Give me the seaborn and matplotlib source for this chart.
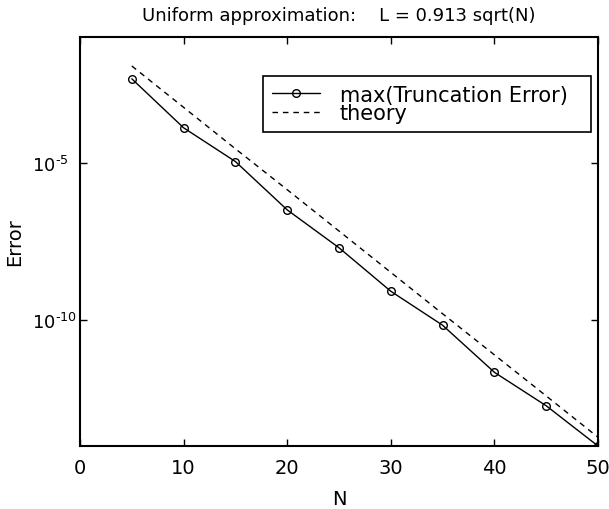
import matplotlib
matplotlib.use("Agg")
import matplotlib.pyplot as plt
import matplotlib.ticker as mticker
import seaborn as sns
import pandas as pd

# ---- data ----
N_values = [5, 10, 15, 20, 25, 30, 35, 40, 45, 50]
max_trunc_error = [4.7e-3, 1.3e-4, 1.1e-5, 3.2e-7, 2.0e-8, 8.3e-10, 6.9e-11, 2.2e-12, 1.9e-13, 1.0e-14]
theory_error = [1.2e-2, 5.8e-4, 2.8e-5, 1.4e-6, 6.8e-8, 3.3e-9, 1.6e-10, 7.9e-12, 3.9e-13, 1.9e-14]
x_ticks = [0, 10, 20, 30, 40, 50]
y_ticks = [1e-10, 1e-5]
y_tick_labels = ["$10^{\\text{-}10}$", "$10^{\\text{-}5}$"]
title_text = "Uniform approximation:    L = 0.913 sqrt(N)"
xlabel_text = "N"
ylabel_text = "Error"
label_data = "max(Truncation Error)"
label_theory = "theory"

df = pd.DataFrame({"N": N_values, "err": max_trunc_error, "theory": theory_error})

sns.set_style("ticks")
plt.rcParams["font.family"] = ["DejaVu Sans"]
plt.rcParams["mathtext.fontset"] = "dejavusans"
for k in ["text.color", "axes.labelcolor", "xtick.color", "ytick.color",
          "xtick.labelcolor", "ytick.labelcolor", "axes.edgecolor"]:
    plt.rcParams[k] = "black"

FS = 14
LFS = 15

fig = plt.figure(figsize=(6.09, 5.10), dpi=100)
ax = fig.add_axes([80/609, 1 - 447/510, (598-80)/609, (447-38)/510])

sns.lineplot(data=df, x="N", y="err", ax=ax, color="black", linewidth=1.0,
             marker="o", markersize=5.5, markerfacecolor="none",
             markeredgecolor="black", markeredgewidth=1.0, label=label_data)
sns.lineplot(data=df, x="N", y="theory", ax=ax, color="black", linewidth=1.0,
             linestyle=(0, (4, 3.5)), label=label_theory)

ax.set_yscale("log")
ax.set_xlim(0, 50)
ax.set_ylim(1e-14, 1e-1)
ax.set_xticks(x_ticks)
ax.set_yticks(y_ticks)
ax.set_yticklabels(y_tick_labels)
ax.yaxis.set_minor_locator(mticker.NullLocator())
ax.xaxis.set_minor_locator(mticker.NullLocator())

ax.tick_params(direction="in", length=5, width=1.0, top=True, right=True,
               labelsize=FS)
ax.tick_params(axis="y", labelsize=13)
ax.tick_params(axis="x", pad=9)
ax.tick_params(axis="y", pad=(80 - 32) * 72 / 100)
for lab in ax.get_yticklabels():
    lab.set_horizontalalignment("left")
for s in ax.spines.values():
    s.set_linewidth(1.5)
    s.set_color("black")
    s.set_visible(True)

ax.set_title(title_text, fontsize=13, pad=12.5)
ax.set_xlabel(xlabel_text, fontsize=FS, labelpad=8)
ax.set_ylabel(ylabel_text, fontsize=FS, labelpad=6)

# legend box spanning the reference frame (axes fraction)
lx0 = (263 - 80) / 518
lx1 = (591 - 80) / 518
ly1 = (447 - 77) / 409
ly0 = (447 - 133) / 409
handles, labels = ax.get_legend_handles_labels()
leg = ax.legend(handles, labels, loc="upper left",
                bbox_to_anchor=(lx0, ly0, lx1 - lx0, ly1 - ly0), mode="expand",
                fontsize=LFS, frameon=True, fancybox=False, framealpha=1,
                edgecolor="black", handlelength=2.3, handletextpad=0.96,
                labelspacing=-0.07, borderpad=0.42, borderaxespad=0)
leg.get_frame().set_linewidth(1.2)

fig.savefig("out.png", dpi=100)
